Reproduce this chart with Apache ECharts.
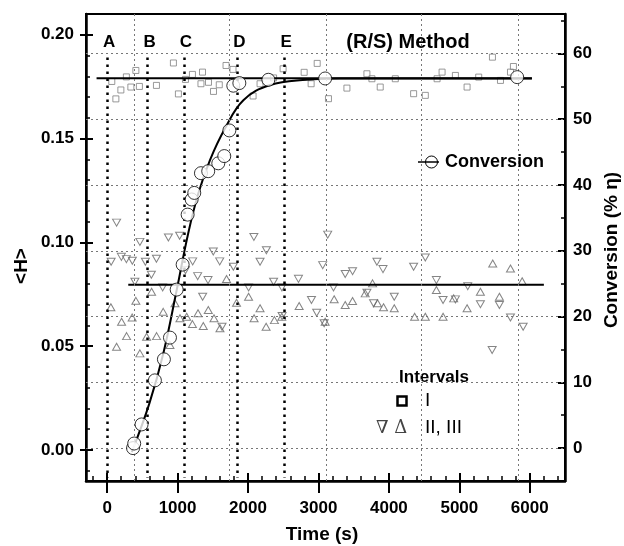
<!DOCTYPE html>
<html>
<head>
<meta charset="utf-8">
<script src="https://cdn.jsdelivr.net/npm/echarts@6/dist/echarts.min.js"></script>
<style>
html,body{margin:0;padding:0;background:#fff;}
#chart{width:624px;height:546px;}
</style>
</head>
<body>
<div id="chart"></div>
<script>
// ---------- data ----------
const timeTicks = [0, 1000, 2000, 3000, 4000, 5000, 6000];
const timeMinorTicks = [-200, 200, 400, 600, 800, 1200, 1400, 1600, 1800, 2200, 2400, 2600, 2800, 3200, 3400, 3600, 3800, 4200, 4400, 4600, 4800, 5200, 5400, 5600, 5800, 6200, 6400];
const hTicks = [0, 0.05, 0.10, 0.15, 0.20];
const hMinorTicks = [-0.01, 0.01, 0.02, 0.03, 0.04, 0.06, 0.07, 0.08, 0.09, 0.11, 0.12, 0.13, 0.14, 0.16, 0.17, 0.18, 0.19];
const convTicks = [0, 10, 20, 30, 40, 50, 60];
const convMinorTicks = [5, 15, 25, 35, 45, 55, 65];

// interval boundaries (A..E) and reference grid positions (time, s)
const markerLabels = ['A', 'B', 'C', 'D', 'E'];
const markerTimes = [0, 575, 1090, 1848, 2512];
const gridTimes = [380, 1735, 3110, 4460, 5830];

// Interval I  (<H>, squares)
const intervalI = [
  [66,0.1775],[124,0.1691],[195,0.1734],[273,0.1797],[337,0.1748],[408,0.1828],[458,0.1751],
  [700,0.1756],[941,0.1864],[1012,0.1715],[1112,0.1785],[1211,0.1809],[1332,0.1764],[1354,0.1820],
  [1439,0.1771],[1510,0.1727],[1592,0.1759],[1688,0.1852],[1787,0.1833],[2072,0.1705],[2171,0.1764],
  [2363,0.1792],[2498,0.1836],[2797,0.1819],[2896,0.1764],[2982,0.1862],[3142,0.1692],[3404,0.1743],
  [3688,0.1812],[3759,0.1788],[3877,0.1748],[4091,0.1788],[4351,0.1716],[4517,0.1708],[4684,0.1788],
  [4755,0.1820],[4944,0.1804],[5110,0.1748],[5275,0.1796],[5470,0.1892],[5584,0.1780],[5726,0.1820],
  [5768,0.1847]
];
// Interval II (<H>, down triangles)
const intervalII = [
  [134,0.1095],[57,0.0906],[202,0.0930],[273,0.0919],[358,0.0911],[465,0.1002],[543,0.0906],
  [700,0.0921],[628,0.0844],[394,0.0810],[788,0.0783],[870,0.1023],[1029,0.1032],[1112,0.0866],
  [1214,0.0908],[1285,0.0837],[1432,0.0818],[1507,0.0956],[1598,0.0908],[1356,0.0738],[1631,0.0593],
  [1792,0.0882],[2083,0.1026],[2261,0.0962],[2171,0.0906],[2008,0.0783],[2363,0.0810],[2481,0.0783],
  [2716,0.0824],[2901,0.0722],[2975,0.0661],[2484,0.0645],[3060,0.0890],[3131,0.1037],[3380,0.0847],
  [3484,0.0861],[3830,0.0906],[3916,0.0871],[4351,0.0882],[4517,0.0927],[4674,0.0818],[3213,0.0783],
  [3688,0.0757],[4076,0.0738],[4769,0.0722],[4944,0.0725],[5119,0.0789],[5299,0.0702],[5569,0.0698],
  [5726,0.0638],[5906,0.0593],[3782,0.0706],[3081,0.0610],[5466,0.0481]
];
// Interval III (<H>, up triangles)
const intervalIII = [
  [53,0.0687],[205,0.0617],[355,0.0638],[408,0.0718],[631,0.0762],[796,0.0665],[963,0.0706],
  [1034,0.0634],[1129,0.0641],[1211,0.0606],[1290,0.0658],[1365,0.0597],[1436,0.0674],[1517,0.0634],
  [1602,0.0586],[1837,0.0709],[2008,0.0738],[2171,0.0682],[2086,0.0634],[2257,0.0593],[2375,0.0625],
  [2480,0.0641],[2726,0.0693],[1695,0.0823],[276,0.0548],[134,0.0497],[560,0.0545],[702,0.0548],
  [465,0.0465],[892,0.0505],[3095,0.0617],[3223,0.0726],[3380,0.0698],[3484,0.0717],[3664,0.0754],
  [3768,0.0802],[3839,0.0706],[3924,0.0687],[4076,0.0682],[4365,0.0641],[4517,0.0641],[4674,0.0770],
  [4769,0.0641],[4920,0.0730],[5110,0.0682],[5299,0.0762],[5474,0.0898],[5569,0.0738],[5726,0.0874],
  [5892,0.0812]
];
// mean <H> lines
const hMeanI = [[-150,0.179],[6030,0.179]];
const hMeanII = [[300,0.0796],[6200,0.0796]];

// Conversion (% eta)
const conversion = [
  [368,0.0],[384,0.7],[489,3.6],[678,10.3],[806,13.5],[892,16.8],[987,24.1],[1072,27.9],
  [1143,35.5],[1200,37.8],[1237,38.8],[1332,41.8],[1435,42.1],[1578,43.3],[1663,44.4],
  [1735,48.3],[1791,55.1],[1877,55.5],[2289,56.0],[3095,56.2],[5821,56.4]
];
const conversionFit = [
  [350,-0.6],[600,6.8],[800,14.5],[987,24.0],[1152,32.7],[1294,38.7],[1460,43.8],[1673,48.6],
  [1934,52.9],[2313,55.2],[2835,56.0],[3300,56.2],[6030,56.2]
];

// ---------- chart ----------
const FONT = '"Liberation Sans", Arial, Helvetica, sans-serif';
const lbl = {color:'#000', fontFamily:FONT, fontWeight:'bold', fontSize:17};
const tMin = -300, tMax = 6500, hMin = -0.015, hMax = 0.21, cMin = -5, cMax = 66;

function xAx(extra){ return Object.assign({type:'value', min:tMin, max:tMax, position:'bottom',
  splitLine:{show:false}, axisLine:{show:false, onZero:false}, axisLabel:{show:false}, axisTick:{show:false}}, extra); }
function yAx(pos, mn, mx, extra){ return Object.assign({type:'value', min:mn, max:mx, position:pos,
  splitLine:{show:false}, axisLine:{show:false, onZero:false}, axisLabel:{show:false}, axisTick:{show:false}}, extra); }

const gridLine = {color:'#777', width:1, type:[2,3]};

const option = {
  animation:false,
  backgroundColor:'#fff',
  grid:{left:86, right:59, top:14, bottom:65, show:true, borderColor:'#000', borderWidth:2, backgroundColor:'transparent'},
  xAxis:[
    xAx({axisLine:{show:true, onZero:false, lineStyle:{color:'#000', width:2.5}},
         axisTick:{show:true, customValues:timeTicks, inside:false, length:12, lineStyle:{color:'#000', width:2}},
         axisLabel:Object.assign({show:true, customValues:timeTicks, margin:19, formatter:v=>String(v)}, lbl)}),
    xAx({axisTick:{show:true, customValues:timeTicks, inside:true, length:8, lineStyle:{color:'#000', width:2}}}),
    xAx({axisTick:{show:true, customValues:timeMinorTicks, inside:true, length:5, lineStyle:{color:'#000', width:1.5}}})
  ],
  yAxis:[
    yAx('left', hMin, hMax, {axisLine:{show:true, onZero:false, lineStyle:{color:'#000', width:2.5}},
         axisTick:{show:true, customValues:hTicks, inside:false, length:6, lineStyle:{color:'#000', width:2}},
         axisLabel:Object.assign({show:true, customValues:hTicks, margin:12, formatter:v=>v.toFixed(2)}, lbl)}),
    yAx('right', cMin, cMax, {axisLine:{show:true, onZero:false, lineStyle:{color:'#000', width:2.5}},
         axisTick:{show:true, customValues:convTicks, inside:true, length:7, lineStyle:{color:'#000', width:2}},
         axisLabel:Object.assign({show:true, customValues:convTicks, margin:8, formatter:v=>String(v)}, lbl)}),
    yAx('left', hMin, hMax, {axisTick:{show:true, customValues:hTicks, inside:true, length:7, lineStyle:{color:'#000', width:2}}}),
    yAx('left', hMin, hMax, {axisTick:{show:true, customValues:hMinorTicks, inside:true, length:4, lineStyle:{color:'#000', width:1.5}}}),
    yAx('right', cMin, cMax, {axisTick:{show:true, customValues:convMinorTicks, inside:true, length:4, lineStyle:{color:'#000', width:1.5}}})
  ],
  series:[
    {type:'line', name:'gridlines', xAxisIndex:0, yAxisIndex:1, data:[], z:1, silent:true,
     markLine:{silent:true, symbol:['none','none'], label:{show:false}, lineStyle:gridLine,
       data: gridTimes.map(t=>({xAxis:t})).concat(convTicks.map(v=>({yAxis:v})))}},
    {type:'scatter', name:'I', xAxisIndex:0, yAxisIndex:0, data:intervalI, symbol:'rect', symbolSize:6, z:2,
     itemStyle:{color:'rgba(255,255,255,0)', borderColor:'#808080', borderWidth:1}},
    {type:'scatter', name:'II', xAxisIndex:0, yAxisIndex:0, data:intervalII, symbol:'triangle', symbolRotate:180, symbolSize:[8,7], z:2,
     itemStyle:{color:'rgba(255,255,255,0)', borderColor:'#666', borderWidth:1}},
    {type:'scatter', name:'III', xAxisIndex:0, yAxisIndex:0, data:intervalIII, symbol:'triangle', symbolSize:[8,7], z:2,
     itemStyle:{color:'rgba(255,255,255,0)', borderColor:'#666', borderWidth:1}},
    {type:'line', name:'mean I', xAxisIndex:0, yAxisIndex:0, data:hMeanI, symbol:'none', z:3,
     lineStyle:{color:'#000', width:2}},
    {type:'line', name:'mean II', xAxisIndex:0, yAxisIndex:0, data:hMeanII, symbol:'none', z:3,
     lineStyle:{color:'#000', width:2},
     markLine:{silent:true, symbol:['none','none'],
       lineStyle:{color:'#000', width:2.5, type:[2.5,4.5]},
       label:{show:true, position:'start', formatter:'{b}', distance:7, offset:[2,0], color:'#000', fontFamily:FONT, fontWeight:'bold', fontSize:17},
       data: markerTimes.map((t,i)=>[{coord:[t,0.189], name:markerLabels[i]},{coord:[t,-0.0135]}])}},
    {type:'line', name:'Conversion fit', xAxisIndex:0, yAxisIndex:1, data:conversionFit, symbol:'none', smooth:0.4, z:4,
     lineStyle:{color:'#000', width:2}},
    {type:'scatter', name:'Conversion', xAxisIndex:0, yAxisIndex:1, data:conversion, symbol:'circle', symbolSize:13, z:5,
     itemStyle:{color:'#fff', borderColor:'#000', borderWidth:1}}
  ],
  graphic:[
    {type:'text', x:408, y:42, style:{text:'(R/S) Method', fill:'#000', font:'bold 20px '+FONT, textAlign:'center', textVerticalAlign:'middle'}},
    {type:'line', shape:{x1:418, y1:162, x2:439, y2:162}, style:{stroke:'#000', lineWidth:1.5}},
    {type:'circle', shape:{cx:431.5, cy:162, r:6}, style:{stroke:'#000', lineWidth:1, fill:'none'}},
    {type:'text', x:445, y:162, style:{text:'Conversion', fill:'#000', font:'bold 18px '+FONT, textAlign:'left', textVerticalAlign:'middle'}},
    {type:'text', x:434, y:377, style:{text:'Intervals', fill:'#000', font:'bold 17px '+FONT, textAlign:'center', textVerticalAlign:'middle'}},
    {type:'rect', shape:{x:397.5, y:396.5, width:9, height:9}, style:{stroke:'#000', lineWidth:2.5, fill:'none'}},
    {type:'text', x:425, y:401, style:{text:'I', fill:'#000', font:'19px '+FONT, textAlign:'left', textVerticalAlign:'middle'}},
    {type:'text', x:376, y:428, style:{text:'\u2207 \u0394', fill:'#444', font:'18px "DejaVu Serif", "Liberation Serif", serif', textAlign:'left', textVerticalAlign:'middle'}},
    {type:'text', x:425, y:428, style:{text:'II, III', fill:'#000', font:'19px '+FONT, textAlign:'left', textVerticalAlign:'middle'}},
    {type:'text', x:322, y:535, style:{text:'Time (s)', fill:'#000', font:'bold 19px '+FONT, textAlign:'center', textVerticalAlign:'middle'}},
    {type:'text', x:22, y:266, rotation:Math.PI/2, style:{text:'<H>', fill:'#000', font:'bold 19px '+FONT, textAlign:'center', textVerticalAlign:'middle'}},
    {type:'text', x:612, y:250, rotation:Math.PI/2, style:{text:'Conversion (% \u03B7)', fill:'#000', font:'bold 19px '+FONT, textAlign:'center', textVerticalAlign:'middle'}}
  ]
};
const chart = echarts.init(document.getElementById('chart'), null, {renderer:'canvas'});
chart.setOption(option);
</script>
</body>
</html>
